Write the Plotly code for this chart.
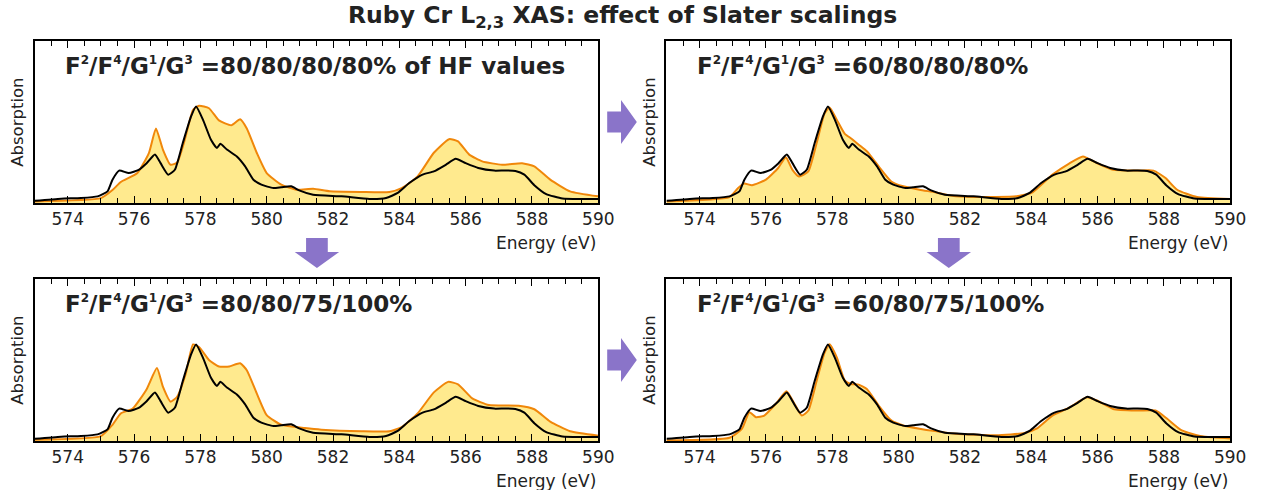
import plotly.graph_objects as go

W, H = 1261, 490

# ---------------- data ----------------
exp_E = [573.0, 573.8, 574.4, 574.9, 575.2, 575.35, 575.55, 575.84, 576.14, 576.38,
         576.63, 576.8, 577.03, 577.23, 577.47, 577.72, 577.87, 578.08, 578.32, 578.5,
         578.6, 578.8, 579.1, 579.35, 579.6, 579.84, 580.2, 580.44, 580.74, 580.98,
         581.4, 582.26, 583.1, 583.6, 583.95, 584.3, 584.7, 585.04, 585.4, 585.7,
         586.0, 586.38, 586.86, 587.2, 587.5, 587.77, 588.07, 588.43, 588.92, 589.5, 590.0]
exp_I = [0.014, 0.027, 0.031, 0.041, 0.072, 0.144, 0.200, 0.185, 0.205, 0.246,
         0.300, 0.246, 0.175, 0.205, 0.370, 0.534, 0.595, 0.513, 0.390, 0.340,
         0.365, 0.330, 0.287, 0.226, 0.144, 0.113, 0.092, 0.097, 0.103, 0.078,
         0.051, 0.041, 0.025, 0.031, 0.062, 0.123, 0.175, 0.195, 0.236, 0.273,
         0.246, 0.216, 0.200, 0.201, 0.198, 0.175, 0.110, 0.055, 0.028, 0.025, 0.025]

# F2/F4/G1/G3 = 80/80/80/80 %
calc1_E = [573.0, 575.0, 575.35, 575.6, 576.1, 576.45, 576.66, 576.87, 577.1, 577.3,
           577.53, 577.78, 577.96, 578.26, 578.56, 578.93, 579.2, 579.4, 579.7, 580.0,
           580.44, 580.9, 581.4, 581.9, 582.86, 583.7, 584.07, 584.55, 585.04, 585.5,
           585.77, 586.1, 586.5, 587.1, 587.7, 588.07, 588.55, 589.15, 590.0]
calc1_I = [0.010, 0.030, 0.080, 0.130, 0.185, 0.310, 0.460, 0.330, 0.236, 0.250,
           0.390, 0.575, 0.600, 0.585, 0.510, 0.480, 0.517, 0.460, 0.310, 0.185,
           0.113, 0.082, 0.088, 0.072, 0.068, 0.068, 0.092, 0.164, 0.310, 0.394,
           0.380, 0.300, 0.257, 0.236, 0.246, 0.226, 0.144, 0.072, 0.041]

# F2/F4/G1/G3 = 60/80/80/80 %
calc2_E = [573.0, 574.9, 575.15, 575.34, 575.58, 576.0, 576.37, 576.6, 576.8, 577.0,
           577.28, 577.53, 577.77, 577.92, 578.14, 578.38, 578.56, 578.8, 579.05, 579.4,
           579.78, 580.14, 580.63, 581.1, 581.73, 582.94, 583.55, 584.04, 584.64, 585.13,
           585.56, 585.98, 586.47, 587.2, 587.69, 588.05, 588.4, 589.0, 590.0]
calc2_I = [0.010, 0.037, 0.090, 0.120, 0.110, 0.144, 0.216, 0.283, 0.205, 0.164,
           0.195, 0.370, 0.554, 0.590, 0.513, 0.427, 0.400, 0.360, 0.318, 0.226,
           0.133, 0.103, 0.082, 0.066, 0.041, 0.037, 0.041, 0.066, 0.175, 0.242,
           0.287, 0.246, 0.205, 0.200, 0.200, 0.154, 0.082, 0.037, 0.025]

# F2/F4/G1/G3 = 80/80/75/100 %
calc3_E = [573.0, 575.0, 575.35, 575.6, 575.96, 576.38, 576.69, 576.87, 577.1, 577.3,
           577.56, 577.78, 577.96, 578.26, 578.56, 578.87, 579.2, 579.4, 579.7, 580.0,
           580.44, 581.15, 581.65, 582.86, 583.7, 584.07, 584.55, 585.04, 585.47, 585.77,
           586.2, 586.7, 587.6, 588.07, 588.55, 589.15, 590.0]
calc3_I = [0.008, 0.030, 0.100, 0.170, 0.200, 0.320, 0.450, 0.335, 0.243, 0.273,
           0.416, 0.596, 0.580, 0.500, 0.460, 0.460, 0.480, 0.437, 0.294, 0.160,
           0.100, 0.080, 0.070, 0.060, 0.060, 0.086, 0.170, 0.300, 0.365, 0.350,
           0.263, 0.222, 0.218, 0.196, 0.120, 0.060, 0.033]

# F2/F4/G1/G3 = 60/80/75/100 %
calc4_E = [573.0, 574.9, 575.28, 575.5, 575.7, 575.95, 576.3, 576.62, 576.86, 577.08,
           577.28, 577.53, 577.77, 577.92, 578.14, 578.38, 578.56, 578.8, 579.05, 579.4,
           579.78, 580.14, 580.63, 581.1, 581.73, 582.94, 583.8, 584.16, 584.64, 585.13,
           585.68, 585.98, 586.47, 587.2, 587.75, 588.1, 588.54, 589.15, 590.0]
calc4_I = [0.004, 0.020, 0.076, 0.178, 0.147, 0.157, 0.230, 0.307, 0.230, 0.157,
           0.188, 0.372, 0.546, 0.597, 0.515, 0.372, 0.352, 0.348, 0.320, 0.219,
           0.127, 0.096, 0.076, 0.061, 0.045, 0.035, 0.049, 0.076, 0.157, 0.204,
           0.270, 0.250, 0.198, 0.188, 0.188, 0.137, 0.065, 0.029, 0.016]

panel_labels = ["=80/80/80/80% of HF values", "=60/80/80/80%",
                "=80/80/75/100%", "=60/80/75/100%"]
tick_vals = [574, 576, 578, 580, 582, 584, 586, 588, 590]
tick_text = ["574", "576", "578", "580", "582", "584", "586", "588", "590"]

calcs = [(calc1_E, calc1_I), (calc2_E, calc2_I), (calc3_E, calc3_I), (calc4_E, calc4_I)]

# ---------------- layout helpers (pixel -> paper) ----------------
def px(x):
    return x / W

def py(y):
    return 1 - y / H

# panel boxes in pixels: (left, right, top, bottom)
boxes = [(35, 606, 41, 203), (675, 1246, 41, 203),
         (35, 606, 279, 441), (675, 1246, 279, 441)]

ORANGE = "#F0870A"
FILL = "#FFEA8E"
PURPLE = "#8A74C9"
TXT = "#222222"
FONT = "DejaVu Sans"

fig = go.Figure()
layout = dict(
    height=H, autosize=True, margin=dict(l=0, r=0, t=0, b=0, pad=0),
    paper_bgcolor="white", plot_bgcolor="white", showlegend=False,
    font=dict(family=FONT, color=TXT, size=17),
)

def sup(s):
    return "<sup><span style='font-size:12px'>" + s + "</span></sup>"

annotations = []
shapes = []
for i, ((cE, cI), (l, r, t, b)) in enumerate(zip(calcs, boxes)):
    n = "" if i == 0 else str(i + 1)
    xa, ya = "x" + n, "y" + n
    fig.add_trace(go.Scatter(x=cE, y=cI, mode="lines",
                             line=dict(color=ORANGE, width=2, shape="spline", smoothing=0.5),
                             fill="tozeroy", fillcolor=FILL, xaxis=xa, yaxis=ya, hoverinfo="skip"))
    fig.add_trace(go.Scatter(x=exp_E, y=exp_I, mode="lines",
                             line=dict(color="black", width=2, shape="spline", smoothing=0.5),
                             xaxis=xa, yaxis=ya, hoverinfo="skip"))
    layout["xaxis" + n] = dict(
        domain=[px(l), px(r)], range=[573, 590], anchor=ya,
        showline=True, linecolor="black", linewidth=1.5, mirror="ticks",
        ticks="inside", ticklen=7, tickwidth=1.2, tickcolor="black",
        tickvals=tick_vals, ticktext=tick_text,
        minor=dict(dtick=0.5, tick0=573, ticks="inside", ticklen=5, tickwidth=1, tickcolor="black"),
        showgrid=False, zeroline=False, fixedrange=True,
        tickfont=dict(size=17, color=TXT, family=FONT),
    )
    layout["yaxis" + n] = dict(
        domain=[py(b), py(t)], range=[0, 1], anchor=xa,
        showline=True, linecolor="black", linewidth=1.5, mirror=True,
        ticks="", showticklabels=False, showgrid=False, zeroline=False, fixedrange=True,
    )
    # panel label
    annotations.append(dict(
        x=px(l + 29), y=py(t + 25), xref="paper", yref="paper", xanchor="left", yanchor="middle",
        showarrow=False, font=dict(size=23, color=TXT, family=FONT),
        text="<b>F" + sup("2") + "/F" + sup("4") + "/G" + sup("1") + "/G" + sup("3") + " " + panel_labels[i] + "</b>"))
    # axis titles
    annotations.append(dict(
        x=px(r), y=py(b + 40), xref="paper", yref="paper", xanchor="right", yanchor="middle",
        showarrow=False, text="Energy (eV)", font=dict(size=17, color=TXT, family=FONT)))
    annotations.append(dict(
        x=px(l - 18), y=py((t + b) / 2), xref="paper", yref="paper", xanchor="center", yanchor="middle",
        showarrow=False, text="Absorption", textangle=-90, font=dict(size=16.5, color=TXT, family=FONT)))

# title
annotations.append(dict(
    x=0.5, y=py(17), xref="paper", yref="paper", xanchor="center", yanchor="middle", showarrow=False,
    text="<b>Ruby Cr L<sub>2,3</sub> XAS: effect of Slater scalings</b>",
    font=dict(size=23.5, color=TXT, family=FONT)))

# arrows (decoration)
def right_arrow(x0, yc):
    pts = [(x0, yc - 10.5), (x0 + 14, yc - 10.5), (x0 + 14, yc - 22), (x0 + 30, yc),
           (x0 + 14, yc + 22), (x0 + 14, yc + 10.5), (x0, yc + 10.5)]
    return "M " + " L ".join(f"{px(a):.5f},{py(c):.5f}" for a, c in pts) + " Z"

def down_arrow(xc, y0):
    pts = [(xc - 11, y0), (xc + 11, y0), (xc + 11, y0 + 14), (xc + 22.5, y0 + 14), (xc, y0 + 30),
           (xc - 22.5, y0 + 14), (xc - 11, y0 + 14)]
    return "M " + " L ".join(f"{px(a):.5f},{py(c):.5f}" for a, c in pts) + " Z"

for path in [right_arrow(615, 122), right_arrow(615, 360), down_arrow(321, 238), down_arrow(961, 238)]:
    shapes.append(dict(type="path", path=path, xref="paper", yref="paper",
                       fillcolor=PURPLE, line=dict(width=0)))

layout["annotations"] = annotations
layout["shapes"] = shapes
fig.update_layout(**layout)

fig.write_html("out.html", default_width="100%", default_height="490px")
